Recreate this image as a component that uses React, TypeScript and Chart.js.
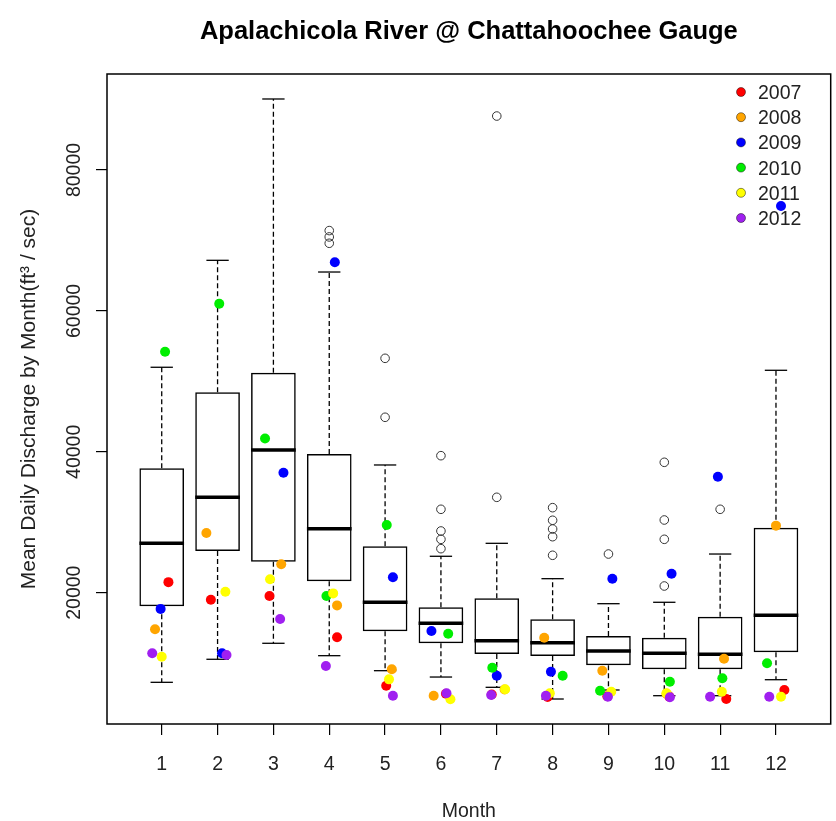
import React, { useEffect, useRef } from "react";
import { Chart, registerables } from "chart.js";
Chart.register(...registerables);

// ---------- data ----------
const months = [1, 2, 3, 4, 5, 6, 7, 8, 9, 10, 11, 12];
const monthLabels = ["1", "2", "3", "4", "5", "6", "7", "8", "9", "10", "11", "12"];
const yTickValues = [20000, 40000, 60000, 80000];

const whiskerLow = [7280, 10550, 12820, 11060, 8930, 8030, 6570, 4910, 6190, 5380, 5380, 7650];
const q1 = [18070, 25920, 24400, 21620, 14520, 12820, 11300, 11010, 9690, 9130, 9130, 11540];
const median = [27010, 33540, 40260, 29090, 18640, 15660, 13190, 12900, 11720, 11400, 11250, 16790];
const q3 = [37660, 48450, 51230, 39690, 26590, 17930, 19200, 16220, 13850, 13610, 16590, 29230];
const whiskerHigh = [52000, 67180, 90080, 65520, 38130, 25170, 27010, 21990, 18440, 18640, 25490, 51570];

const outlierMonth = [4, 4, 4, 5, 5, 6, 6, 6, 6, 6, 7, 7, 8, 8, 8, 8, 8, 9, 10, 10, 10, 10, 11];
const outlierFlow = [71400, 70500, 69600, 53270, 44900, 39450, 31840, 28760, 27580, 26250, 87660, 33540,
  32070, 30280, 29040, 27950, 25310, 25490, 38510, 30320, 27580, 20950, 31840];

const years = ["2007", "2008", "2009", "2010", "2011", "2012"];
const yearColors = ["#FF0000", "#FFA500", "#0000FF", "#00EE00", "#FFFF00", "#A020F0"];

const flow2007 = [21500, 19000, 19530, 13670, 6800, 5650, 5550, 5200, 5300, 5250, 4910, 6190];
const jitter2007 = [0.12, -0.12, -0.07, 0.14, 0.02, 0.09, -0.09, -0.09, -0.02, 0.09, 0.11, 0.15];
const flow2008 = [14800, 28470, 24030, 18200, 9130, 5380, 6250, 13610, 8930, 5650, 10630, 29520];
const jitter2008 = [-0.12, -0.2, 0.14, 0.14, 0.12, -0.13, 0.14, -0.15, -0.11, 0.04, 0.07, 0.0];
const flow2009 = [17700, 11400, 37030, 66900, 22190, 14560, 8220, 8790, 21990, 22700, 36470, 74900];
const jitter2009 = [-0.02, 0.08, 0.18, 0.1, 0.14, -0.17, 0.0, -0.03, 0.07, 0.13, -0.04, 0.09];
const flow2010 = [54200, 61020, 41900, 19530, 29610, 14180, 9350, 8220, 6090, 7370, 7850, 9980];
const jitter2010 = [0.06, 0.03, -0.15, -0.05, 0.03, 0.13, -0.08, 0.18, -0.15, 0.1, 0.04, -0.16];
const flow2011 = [10900, 20140, 21900, 19900, 7700, 4870, 6290, 5720, 5950, 5720, 5950, 5240];
const jitter2011 = [0.0, 0.14, -0.06, 0.07, 0.07, 0.17, 0.15, -0.05, 0.05, 0.04, 0.03, 0.09];
const flow2012 = [11400, 11160, 16270, 9600, 5380, 5720, 5480, 5380, 5240, 5150, 5240, 5240];
const jitter2012 = [-0.17, 0.16, 0.12, -0.06, 0.14, 0.1, -0.1, -0.12, -0.01, 0.1, -0.18, -0.12];

const titleText = "Apalachicola River @ Chattahoochee Gauge";
const xTitle = "Month";
const yTitle = "Mean Daily Discharge by Month(ft³ / sec)";

const FONT = '"Liberation Sans", Arial, sans-serif';

const decorPlugin = {
  id: "decor",
  beforeDatasetsDraw(chart: any) {
    const ctx = chart.ctx;
    const xs = chart.scales.x;
    const ys = chart.scales.y;
    ctx.save();
    ctx.strokeStyle = "#000";
    ctx.lineCap = "butt";
    const seg = (x1: number, y1: number, x2: number, y2: number) => {
      ctx.beginPath();
      ctx.moveTo(x1, y1);
      ctx.lineTo(x2, y2);
      ctx.stroke();
    };
    months.forEach((m, i) => {
      const x = xs.getPixelForValue(m);
      ctx.setLineDash([5, 3]);
      ctx.lineWidth = 1.3;
      seg(x, ys.getPixelForValue(q3[i]), x, ys.getPixelForValue(whiskerHigh[i]));
      seg(x, ys.getPixelForValue(q1[i]), x, ys.getPixelForValue(whiskerLow[i]));
      ctx.setLineDash([]);
      const sl = xs.getPixelForValue(m - 0.2);
      const sr = xs.getPixelForValue(m + 0.2);
      seg(sl, ys.getPixelForValue(whiskerHigh[i]), sr, ys.getPixelForValue(whiskerHigh[i]));
      seg(sl, ys.getPixelForValue(whiskerLow[i]), sr, ys.getPixelForValue(whiskerLow[i]));
      ctx.lineWidth = 3.5;
      const bl = xs.getPixelForValue(m - 0.4);
      const br = xs.getPixelForValue(m + 0.4);
      seg(bl, ys.getPixelForValue(median[i]), br, ys.getPixelForValue(median[i]));
    });
    ctx.restore();
  },
  afterDraw(chart: any) {
    const ctx = chart.ctx;
    const area = chart.chartArea;
    const xs = chart.scales.x;
    const ys = chart.scales.y;
    const cx = (area.left + area.right) / 2;
    const cy = (area.top + area.bottom) / 2;
    ctx.save();
    // frame
    ctx.strokeStyle = "#000";
    ctx.lineWidth = 1.5;
    ctx.strokeRect(area.left, area.top, area.right - area.left, area.bottom - area.top);
    // title
    ctx.fillStyle = "#000";
    ctx.font = `bold 25.5px ${FONT}`;
    ctx.textAlign = "center";
    ctx.textBaseline = "alphabetic";
    ctx.fillText(titleText, cx, 39);
    // x tick labels
    ctx.fillStyle = "#222";
    ctx.font = `19.5px ${FONT}`;
    xs.ticks.forEach((t: any, i: number) => {
      ctx.fillText(monthLabels[i], xs.getPixelForValue(t.value), 770);
    });
    // x title
    ctx.fillText(xTitle, cx, 817);
    // y tick labels (rotated)
    ys.ticks.forEach((t: any) => {
      ctx.save();
      ctx.translate(80, ys.getPixelForValue(t.value));
      ctx.rotate(-Math.PI / 2);
      ctx.fillText(String(t.value), 0, 0);
      ctx.restore();
    });
    // y title
    ctx.save();
    ctx.font = `21px ${FONT}`;
    ctx.translate(35, cy);
    ctx.rotate(-Math.PI / 2);
    ctx.fillText(yTitle, 0, 0);
    ctx.restore();
    // legend
    const ds = chart.data.datasets.filter((d: any) => d.isYear);
    ds.forEach((d: any, i: number) => {
      const ry = 92 + i * 25.2;
      ctx.beginPath();
      ctx.arc(741, ry, 4.5, 0, Math.PI * 2);
      ctx.fillStyle = d.backgroundColor;
      ctx.fill();
      ctx.lineWidth = 1;
      ctx.strokeStyle = "rgba(0,0,0,0.45)";
      ctx.stroke();
      ctx.fillStyle = "#222";
      ctx.textAlign = "left";
      ctx.fillText(d.label, 758, ry + 7);
    });
    ctx.restore();
  },
};

export default function App() {
  const ref = useRef<HTMLCanvasElement>(null);
  useEffect(() => {
    const canvas = ref.current;
    if (!canvas) return;
    const yearFlows = [flow2007, flow2008, flow2009, flow2010, flow2011, flow2012];
    const yearJitters = [jitter2007, jitter2008, jitter2009, jitter2010, jitter2011, jitter2012];

    const pointSets: any[] = years.map((yr, i) => ({
      type: "scatter",
      label: yr,
      isYear: true,
      data: months.map((m, j) => ({ x: m + yearJitters[i][j], y: yearFlows[i][j] })),
      backgroundColor: yearColors[i],
      borderWidth: 0,
      pointRadius: 5,
      pointHoverRadius: 5,
      order: 6 - i,
    }));

    const outlierSet: any = {
      type: "scatter",
      label: "outliers",
      data: outlierMonth.map((m, i) => ({ x: m, y: outlierFlow[i] })),
      backgroundColor: "rgba(0,0,0,0)",
      borderColor: "#333",
      borderWidth: 1,
      pointRadius: 4.3,
      pointHoverRadius: 4.3,
      order: 7,
    };

    const boxSet: any = {
      type: "bar",
      label: "box",
      data: months.map((m, i) => ({ x: m, y: [q1[i], q3[i]] })),
      backgroundColor: "rgba(0,0,0,0)",
      borderColor: "#000",
      borderWidth: 1.5,
      borderSkipped: false,
      categoryPercentage: 0.8,
      barPercentage: 1,
      order: 8,
    };

    const chart = new Chart(canvas, {
      type: "bar",
      data: { datasets: [boxSet, outlierSet, ...pointSets] },
      plugins: [decorPlugin],
      options: {
        animation: false,
        responsive: false,
        maintainAspectRatio: false,
        events: [],
        layout: { padding: { left: 0, top: 74, right: 4, bottom: 0 } },
        plugins: {
          legend: { display: false },
          title: { display: false },
          tooltip: { enabled: false },
        },
        scales: {
          x: {
            type: "linear",
            offset: false,
            min: 0.02,
            max: 12.98,
            afterBuildTicks: (s: any) => {
              s.ticks = months.map((v) => ({ value: v }));
            },
            afterFit: (s: any) => {
              s.height = 97;
            },
            grid: { offset: false, drawOnChartArea: false, drawTicks: true, tickLength: 11, color: "#000", lineWidth: 1.2 },
            border: { display: false },
            ticks: { display: false },
          },
          y: {
            type: "linear",
            min: 1363,
            max: 93627,
            afterBuildTicks: (s: any) => {
              s.ticks = yTickValues.map((v) => ({ value: v }));
            },
            afterFit: (s: any) => {
              s.width = 107;
            },
            grid: { drawOnChartArea: false, drawTicks: true, tickLength: 11, color: "#000", lineWidth: 1.2 },
            border: { display: false },
            ticks: { display: false },
          },
        },
      } as any,
    } as any);
    return () => chart.destroy();
  }, []);

  return (
    <div style={{ position: "absolute", left: 0, top: 0, width: 836, height: 821, background: "#fff" }}>
      <canvas ref={ref} width={836} height={821} style={{ display: "block", width: 836, height: 821 }} />
    </div>
  );
}
